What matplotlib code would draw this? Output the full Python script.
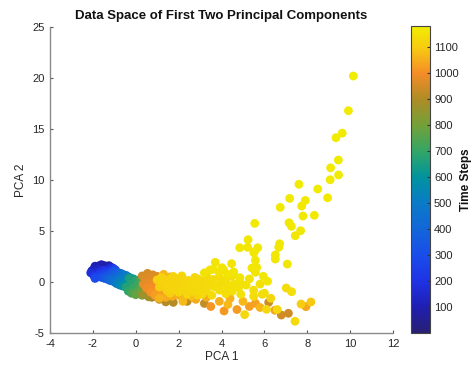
import numpy as np
import matplotlib
matplotlib.use("Agg")
import matplotlib.pyplot as plt
from matplotlib.colors import LinearSegmentedColormap

plt.rcParams['font.family'] = ['Liberation Sans', 'DejaVu Sans']
plt.rcParams['axes.unicode_minus'] = False

# blue phase (early time steps)
blue_x = [-1.55, -1.45, -1.6, -1.35, -1.7, -1.5, -1.25, -1.8, -1.4, -1.6,
          -1.9, -1.95, -2.05, -1.75, -1.3, -1.15, -1.85, -2.0, -1.65, -1.5,
          -1.2, -1.05, -1.95, -1.7, -1.4, -1.8, -1.55, -1.3, -1.1, -0.95,
          -1.6, -1.35, -1.15, -0.9, -1.45, -1.2, -1.0, -0.8, -1.3, -1.05,
          -2.1, -1.9, -1.2, -1.0]
blue_y = [1.55, 1.6, 1.45, 1.5, 1.6, 1.35, 1.6, 1.5, 1.4, 1.7,
          1.55, 1.3, 1.1, 1.25, 1.3, 1.45, 0.95, 0.8, 1.05, 1.15,
          1.2, 1.35, 0.6, 0.75, 0.95, 0.5, 0.7, 0.85, 1.05, 1.2,
          0.45, 0.6, 0.8, 0.95, 0.35, 0.5, 0.7, 0.9, 0.25, 0.4,
          0.9, 0.35, 0.15, 1.0]
blue_t = [5, 15, 25, 35, 45, 55, 65, 75, 85, 95,
          105, 115, 125, 135, 145, 155, 165, 175, 185, 195,
          205, 215, 225, 235, 245, 255, 265, 275, 285, 295,
          305, 315, 325, 335, 345, 355, 365, 375, 385, 395,
          180, 290, 360, 340]

# teal and green phase
mid_x = [-0.85, -0.7, -1.15, -0.95, -0.75, -0.6, -1.0, -0.8, -0.6, -0.45,
         -0.9, -0.7, -0.5, -0.35, -0.75, -0.55, -0.4, -0.25, -0.6, -0.4,
         -0.2, -0.1, -0.45, -0.25, -0.05,
         -0.3, -0.45, -0.2, 0.0, -0.35, -0.1, 0.1, 0.2, -0.2, 0.05,
         0.25, 0.35, 0.0, 0.2, 0.4, 0.45, 0.5, 0.3, 0.55, 0.65, 0.7, 0.6]
mid_y = [0.6, 0.85, 0.15, 0.3, 0.5, 0.75, 0.0, 0.2, 0.4, 0.65,
         -0.15, 0.05, 0.25, 0.5, -0.3, -0.1, 0.15, 0.4, -0.4, -0.2,
         0.0, 0.3, -0.5, -0.35, -0.15,
         0.35, -0.5, -0.2, 0.15, -0.9, -0.6, -0.3, 0.25, -1.1, -0.9,
         -0.6, -0.1, -1.25, -1.05, -0.8, -0.35, 0.2, -1.3, -1.1, -0.6, -0.1, -1.45]
mid_t = [405, 415, 425, 435, 445, 455, 465, 475, 485, 495,
         505, 515, 525, 535, 545, 555, 565, 575, 585, 595,
         605, 615, 625, 635, 645,
         655, 665, 675, 685, 695, 705, 715, 725, 735, 745,
         755, 765, 775, 785, 795, 805, 815, 825, 835, 845, 855, 865]

# orange phase
orange_x = [0.4, 0.75, 1.1, 1.75, 2.4, 3.2, 6.2, 7.12, 6.79, 1.4,
            0.3, 0.55, 0.8, 0.45, 0.7, 1.0, 0.35, 0.6, 0.9, 1.2,
            0.5, 0.8, 1.1, 1.4, 0.7, 1.0, 1.3, 1.6, 0.9, 1.2, 1.5,
            1.8, 2.1, 1.4, 1.7, 2.0, 2.3, 2.6,
            3.5, 4.12, 4.72, 5.3, 5.58, 6.49, 7.94, 2.8, 3.3, 3.9,
            4.4, 5.0, 2.2, 2.6, 5.8, 4.3, 1.3, 1.6, 1.9, 1.1, 2.2]
orange_y = [-1.2, -1.5, -1.7, -2.0, -1.9, -2.1, -2.0, -3.07, -3.24, -1.95,
            0.6, 0.85, 0.7, 0.3, 0.4, 0.55, -0.2, -0.05, 0.1, 0.3,
            -0.6, -0.45, -0.3, -0.1, -1.0, -0.85, -0.7, -0.5, -1.3, -1.2, -1.05,
            -0.9, -0.75, -1.5, -1.4, -1.3, -1.15, -1.0,
            -2.4, -2.84, -2.7, -2.4, -2.09, -2.77, -2.42, -1.7, -1.5, -1.9,
            -1.6, -1.9, -1.9, -1.4, -2.5, -2.2, 0.75, 0.5, 0.3, -1.6, -1.6]
orange_t = [880, 890, 900, 910, 920, 930, 940, 945, 948, 905,
            952, 956, 960, 964, 968, 972, 976, 980, 984, 988,
            992, 996, 1000, 1004, 1008, 1012, 1016, 1020, 1024, 1028, 1032,
            1036, 1040, 1044, 1048, 1052, 1056, 1060,
            1010, 1015, 1020, 1025, 1030, 1035, 1040, 1045, 1050, 1055,
            1060, 1065, 1070, 1075, 1062, 1068, 1064, 1066, 1072, 1058, 1061]

# yellow phase: dense band
band_x = [1.0, 1.3, 1.2, 1.6, 1.5, 1.9, 1.8, 2.1, 2.2, 2.0,
          2.45, 2.5, 2.4, 2.75, 2.8, 2.7, 3.05, 3.0, 3.1, 3.3,
          3.35, 3.3, 3.6, 3.65, 3.55, 3.9, 3.95, 3.9, 4.2, 4.25,
          4.2, 4.5, 4.55, 4.5, 4.85, 4.8, 4.9, 5.15, 5.3, 5.5,
          5.8, 5.5, 6.0, 7.02, 7.27, 7.71, 8.17, 7.43, 5.08, 6.1,
          6.6, 6.3, 5.9,
          1.1, 1.4, 1.45, 1.7, 1.75, 2.0, 2.3, 2.35, 2.6, 2.9,
          2.95, 3.2, 1.25, 2.15, 2.65, 1.6, 2.9]
band_y = [0.2, -0.1, 0.45, 0.3, -0.4, 0.1, -0.7, 0.4, -0.3, -1.0,
          0.15, -0.6, -1.2, 0.45, -0.15, -0.9, 0.1, -0.5, -1.2, 0.6,
          -0.2, -0.85, 0.25, -0.45, -1.3, 0.5, -0.1, -0.8, 0.2, -0.5,
          -1.15, 0.6, -0.2, -0.9, 0.1, -0.55, -1.2, -0.3, 0.3, -0.8,
          -0.2, -1.4, -1.1, -0.59, -0.95, -2.16, -1.96, -3.85, -3.2, -2.68,
          -2.7, -1.6, -1.2,
          -0.5, 0.1, -0.8, -0.2, 0.55, -0.5, 0.05, -0.9, -0.35, 0.3,
          -0.8, -0.4, 0.35, 0.6, 0.05, -1.1, -1.3]
band_t = [1112, 1113, 1114, 1115, 1116, 1117, 1118, 1119, 1120, 1121,
          1122, 1123, 1124, 1125, 1126, 1127, 1128, 1129, 1130, 1131,
          1132, 1133, 1134, 1135, 1136, 1137, 1138, 1139, 1140, 1141,
          1142, 1143, 1144, 1145, 1146, 1147, 1148, 1149, 1150, 1140,
          1145, 1135, 1142, 1138, 1141, 1100, 1095, 1130, 1125, 1128,
          1126, 1122, 1132,
          1110, 1112, 1114, 1116, 1118, 1120, 1122, 1124, 1126, 1128,
          1130, 1129, 1113, 1121, 1127, 1108, 1115]

# yellow phase: upper branch
branch_x = [3.46, 4.1, 3.2, 3.9, 4.3, 3.62, 3.71, 4.02, 4.47, 4.57,
            4.86, 5.58, 5.64, 5.42, 5.95, 6.15, 5.58, 6.51, 6.51, 7.07,
            4.85, 5.22, 5.51, 5.53, 5.69, 6.67, 6.71, 5.24, 7.44, 7.69,
            7.26, 7.15, 5.55, 7.8, 8.33, 6.74, 7.74, 7.91, 7.18, 8.95,
            8.49, 7.61, 9.07, 9.46, 9.09, 9.45, 9.34, 9.63, 9.92, 10.15]
branch_y = [1.18, 1.2, 0.9, 0.9, 0.75, 1.24, 1.93, 1.4, 1.8, 0.98,
            0.42, 0.95, 1.43, 1.37, 0.56, 0.07, 2.13, 2.25, 2.65, 1.76,
            3.36, 3.4, 2.87, 2.97, 3.36, 3.4, 3.75, 4.15, 4.54, 5.03,
            5.46, 5.81, 5.75, 6.47, 6.54, 7.32, 7.45, 8.0, 8.2, 8.26,
            9.12, 9.58, 10.03, 10.5, 11.2, 11.96, 14.15, 14.6, 16.8, 20.2]
branch_t = [1151, 1151, 1152, 1152, 1153, 1153, 1154, 1154, 1155, 1155,
            1156, 1156, 1157, 1157, 1158, 1158, 1159, 1159, 1160, 1160,
            1161, 1161, 1162, 1162, 1163, 1163, 1164, 1164, 1165, 1165,
            1166, 1166, 1167, 1167, 1168, 1168, 1169, 1169, 1170, 1170,
            1171, 1171, 1172, 1172, 1173, 1173, 1174, 1174, 1175, 1176]

x_ticks = [-4, -2, 0, 2, 4, 6, 8, 10, 12]
y_ticks = [-5, 0, 5, 10, 15, 20, 25]
cbar_ticks = [100, 200, 300, 400, 500, 600, 700, 800, 900, 1000, 1100]

# parula-like colormap as it appears in the picture
cmap = LinearSegmentedColormap.from_list('parula_like', [
    (0.0, (0.16, 0.12, 0.45)),
    (0.084, (0.12, 0.12, 0.70)),
    (0.169, (0.12, 0.20, 0.90)),
    (0.253, (0.10, 0.30, 0.92)),
    (0.338, (0.07, 0.40, 0.85)),
    (0.423, (0.04, 0.48, 0.78)),
    (0.508, (0.0, 0.58, 0.62)),
    (0.593, (0.20, 0.65, 0.40)),
    (0.677, (0.45, 0.63, 0.22)),
    (0.762, (0.68, 0.55, 0.15)),
    (0.847, (0.96, 0.55, 0.15)),
    (0.932, (0.97, 0.80, 0.07)),
    (1.0, (0.94, 0.93, 0.0)),
])

x = np.array(blue_x + mid_x + orange_x + band_x + branch_x)
y = np.array(blue_y + mid_y + orange_y + band_y + branch_y)
t = np.array(blue_t + mid_t + orange_t + band_t + branch_t)
order = np.argsort(t, kind='stable')

fig = plt.figure(figsize=(4.74, 3.69), dpi=100)
ax = fig.add_axes([0.1055, 0.0976, 0.7236, 0.829])
cax = fig.add_axes([0.867, 0.0976, 0.040, 0.832])

sc = ax.scatter(x[order], y[order], c=t[order], cmap=cmap, vmin=1, vmax=1180,
                s=40, linewidths=0)

ax.set_xlim(-4, 12)
ax.set_ylim(-5, 25)
ax.set_xticks(x_ticks)
ax.set_yticks(y_ticks)
for side in ['top', 'right']:
    ax.spines[side].set_visible(False)
for side in ['left', 'bottom']:
    ax.spines[side].set_color('#8a8a8a')
    ax.spines[side].set_linewidth(1.0)
ax.tick_params(direction='in', length=2.5, color='#555555', labelsize=8,
               labelcolor='#262626', pad=4)
ax.set_title('Data Space of First Two Principal Components', fontsize=9.5,
             fontweight='bold', color='#111111', pad=6)
ax.set_xlabel('PCA 1', fontsize=8.5, color='#262626', labelpad=2)
ax.set_ylabel('PCA 2', fontsize=8.5, color='#262626', labelpad=4)

cb = fig.colorbar(sc, cax=cax, ticks=cbar_ticks)
cb.outline.set_edgecolor('#444444')
cb.outline.set_linewidth(0.8)
cax.tick_params(direction='in', length=2, color='#333333', labelsize=8,
                labelcolor='#262626', pad=3)
cb.set_label('Time Steps', fontsize=8.5, fontweight='bold', color='#111111',
             labelpad=1)

fig.savefig('out.png', dpi=100)
